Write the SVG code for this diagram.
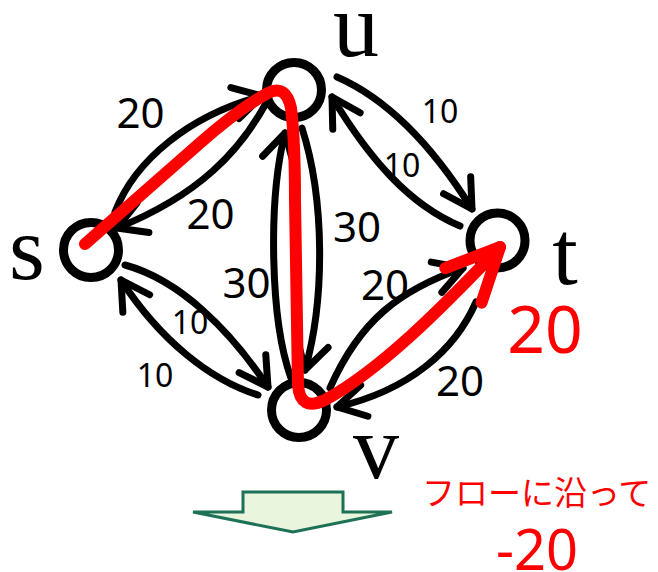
<svg xmlns="http://www.w3.org/2000/svg" width="658" height="572" viewBox="0 0 658 572">
<style>
.node{fill:#fff;stroke:#000;stroke-width:9}
.edge{fill:none;stroke:#000;stroke-width:7;stroke-linecap:round;marker-end:url(#ah)}
.nl{font-family:"Liberation Serif","Times New Roman",serif;font-size:92px;fill:#000;text-anchor:middle}
.el{font-family:"Noto Sans","Open Sans",sans-serif;font-size:42px;fill:#000;text-anchor:middle}
.es{font-size:32px}
.red{fill:#ff0000}
.flow{fill:none;stroke:#ff0000;stroke-width:12;stroke-linecap:round;stroke-linejoin:round}
</style>
<defs>
<marker id="ah" markerUnits="userSpaceOnUse" viewBox="-40 -30 50 60" markerWidth="50" markerHeight="60" refX="0" refY="0" orient="auto" overflow="visible">
<path d="M-28,-16 L0,0 L-28,16" fill="none" stroke="#000" stroke-width="7" stroke-linecap="round" stroke-linejoin="round"/>
</marker>
<marker id="rh" markerUnits="userSpaceOnUse" viewBox="-70 -40 80 80" markerWidth="80" markerHeight="80" refX="0" refY="0" orient="auto" overflow="visible">
<path d="M-53,-25 L0,0 L-53,25" fill="none" stroke="#ff0000" stroke-width="12" stroke-linecap="round" stroke-linejoin="round"/>
</marker>
</defs>
<g id="connectors">
<path class="edge" d="M115 212 C135 160 190 115 262 96"/>
<path class="edge" d="M265 105 C240 150 200 195 117 228"/>
<path class="edge" d="M337 77 C390 100 435 150 472 209"/>
<path class="edge" d="M460 226 C410 205 370 160 332 97"/>
<path class="edge" d="M302 128 C325 200 325 300 305 370"/>
<path class="edge" d="M291 378 C270 320 268 200 285 133"/>
<path class="edge" d="M125 265 C180 280 230 330 268 387"/>
<path class="edge" d="M258 395 C210 380 160 340 121 280"/>
<path class="edge" d="M330 388 C360 320 400 290 463 268"/>
<path class="edge" d="M476 302 C455 350 410 390 337 407"/>
</g>
<g id="node-s"><circle class="node" cx="91" cy="250" r="27.5"/><text class="nl" x="27" y="279">s</text></g>
<g id="node-u"><circle class="node" cx="294" cy="90" r="27.5"/><text class="nl" x="356" y="56">u</text></g>
<g id="node-t"><circle class="node" cx="497.5" cy="240.5" r="27.5"/><text class="nl" x="565" y="284">t</text></g>
<g id="node-v"><circle class="node" cx="299" cy="410" r="27.5"/><text class="nl" x="376" y="478">v</text></g>
<g id="flow-path">
<path class="flow" marker-end="url(#rh)" d="M85 244 L200 143 Q240 108 268 93 Q286 84 291 108 Q295 140 295 200 L298 385 Q300 412 325 400 C380 370 440 310 500 247"/>
</g>
<g id="edge-labels">
<text class="el" x="140.5" y="128">20</text>
<text class="el" x="210.5" y="229">20</text>
<text class="el es" x="440" y="123">10</text>
<text class="el es" x="402" y="177">10</text>
<text class="el" x="357" y="242">30</text>
<text class="el" x="246.5" y="298">30</text>
<text class="el" x="385" y="300">20</text>
<text class="el" x="460" y="396">20</text>
<text class="el es" x="190" y="334">10</text>
<text class="el es" x="155" y="387">10</text>
<text class="el red" x="545" y="353" style="font-size:66px">20</text>
</g>
<g id="step-arrow">
<polygon points="243,492 343,492 343,512 392,512 293,532 193,512 243,512" fill="#eaf5de" stroke="#1d7156" stroke-width="3" stroke-linejoin="miter"/>
</g>
<g id="notes">
<text x="422" y="505" style="font-family:'Noto Sans CJK JP','Noto Sans',sans-serif;font-size:33px;fill:#ff0000">フローに沿って</text>
<text class="el red" x="537" y="570" style="font-size:56px">-20</text>
</g>
</svg>
